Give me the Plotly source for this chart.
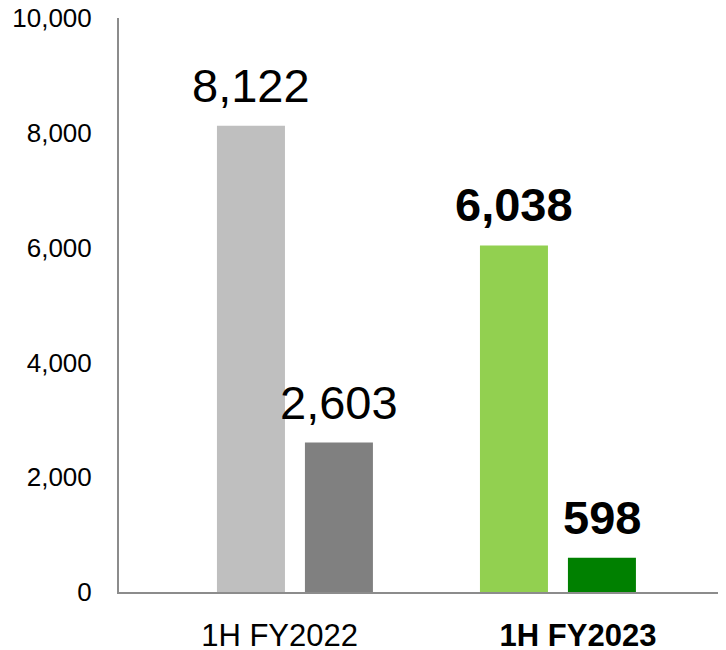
import plotly.graph_objects as go

# ── data ─────────────────────────────────────────────
periods = ["1H FY2022", "1H FY2023"]
period_labels = ["1H FY2022", "<b>1H FY2023</b>"]
series_a = [8122, 6038]
series_b = [2603, 598]
colors_a = ["#BFBFBF", "#92D050"]
colors_b = ["#808080", "#008000"]
y_ticks = [0, 2000, 4000, 6000, 8000, 10000]

# ── layout numbers ───────────────────────────────────
W, H = 718, 642          # page body adds 8px margin around the figure
M = dict(l=111, r=0, t=10, b=58)
X_RANGE = [-0.669, 1.639]
LABEL_RANGE = [-0.538, 1.496]   # category labels sit a bit wider apart than the bars
BARGAP = 0.331
BARGROUPGAP = 0.227

fig = go.Figure()
for vals, cols in [(series_a, colors_a), (series_b, colors_b)]:
    fig.add_trace(go.Bar(
        x=periods,
        y=vals,
        marker=dict(color=cols, line=dict(width=0)),
        showlegend=False,
    ))

# empty trace so the label axis gets drawn
fig.add_trace(go.Scatter(
    x=list(range(len(periods))), y=[None] * len(periods),
    xaxis="x2", mode="markers", showlegend=False, hoverinfo="skip",
))

# value labels above bars (latest period in bold)
px_per_cat = (W - M["l"] - M["r"]) / (X_RANGE[1] - X_RANGE[0])
slot = px_per_cat * (1 - BARGAP) / 2
for k, vals in enumerate([series_a, series_b]):
    for i, v in enumerate(vals):
        txt = f"{v:,}" if i == 0 else f"<b>{v:,}</b>"
        fig.add_annotation(
            x=periods[i], y=v, xref="x", yref="y",
            text=txt, showarrow=False,
            xanchor="center", yanchor="bottom",
            xshift=(k - 0.5) * slot, yshift=12,
            font=dict(size=47, color="black"),
        )

fig.update_layout(
    width=W,
    height=H,
    margin=M,
    paper_bgcolor="white",
    plot_bgcolor="white",
    barmode="group",
    bargap=BARGAP,
    bargroupgap=BARGROUPGAP,
    font=dict(family="Liberation Sans, Arial", color="black"),
    xaxis=dict(
        type="category",
        range=X_RANGE,
        showticklabels=False,
        automargin=False,
        showline=True,
        linecolor="#8C8C8C",
        linewidth=2,
        showgrid=False,
        zeroline=False,
    ),
    xaxis2=dict(
        type="linear",
        overlaying="x",
        anchor="y",
        side="bottom",
        range=LABEL_RANGE,
        tickvals=list(range(len(periods))),
        ticktext=period_labels,
        tickfont=dict(size=31),
        ticklabelstandoff=22,
        automargin=False,
        showline=False,
        showgrid=False,
        zeroline=False,
    ),
    yaxis=dict(
        range=[0, 10000],
        tickvals=y_ticks,
        tickformat=",",
        tickfont=dict(size=26),
        ticklabelstandoff=20,
        ticklabeloverflow="allow",
        automargin=False,
        showline=True,
        linecolor="#8C8C8C",
        linewidth=2,
        showgrid=False,
        zeroline=False,
    ),
)

fig.write_html("out.html")
